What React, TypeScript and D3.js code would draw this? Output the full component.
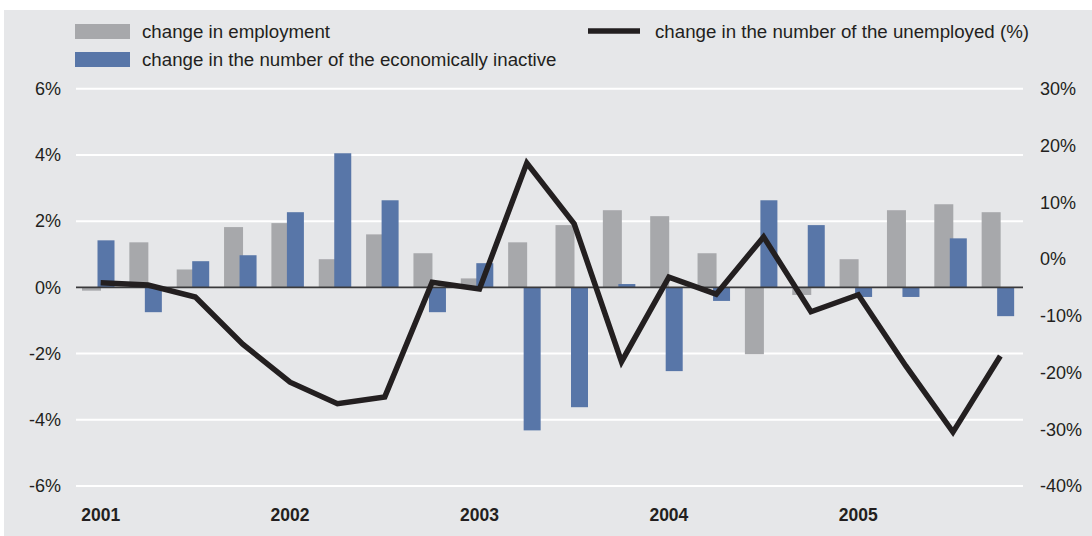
import React from "react";
import * as d3 from "d3";

const quarters = [
  "2001Q1","2001Q2","2001Q3","2001Q4",
  "2002Q1","2002Q2","2002Q3","2002Q4",
  "2003Q1","2003Q2","2003Q3","2003Q4",
  "2004Q1","2004Q2","2004Q3","2004Q4",
  "2005Q1","2005Q2","2005Q3","2005Q4",
];
const yearLabels = ["2001", "2002", "2003", "2004", "2005"];
const employment = [-0.1, 1.36, 0.54, 1.82, 1.94, 0.85, 1.6, 1.03, 0.27, 1.36, 1.88, 2.33, 2.15, 1.03, -2.02, -0.23, 0.85, 2.33, 2.51, 2.27];
const inactive = [1.42, -0.75, 0.79, 0.97, 2.27, 4.05, 2.63, -0.75, 0.73, -4.32, -3.62, 0.1, -2.53, -0.41, 2.63, 1.88, -0.29, -0.29, 1.48, -0.87];
const unemployed = [-4.2, -4.6, -6.7, -15.0, -21.7, -25.5, -24.3, -4.1, -5.3, 16.9, 6.2, -18.1, -3.2, -6.2, 3.9, -9.3, -6.3, -18.8, -30.5, -17.1];
const leftTicks = [6, 4, 2, 0, -2, -4, -6];
const rightTicks = [30, 20, 10, 0, -10, -20, -30, -40];
const legendLabels = [
  "change in employment",
  "change in the number of the economically inactive",
  "change in the number of the unemployed (%)",
];

const W = 1092, H = 536;
const C_BG = "#e6e7e9", C_GREY = "#a7a8ab", C_BLUE = "#5876a8", C_LINE = "#231f20", C_TEXT = "#231f20";
const FONT = "Liberation Sans, Arial, sans-serif";

export default function App() {
  const x = d3.scaleBand<number>().domain(d3.range(quarters.length)).range([76, 1023]).padding(0);
  const yL = d3.scaleLinear().domain([-6, 6]).range([486, 88.7]);
  const yR = d3.scaleLinear().domain([-40, 30]).range([486, 88.7]);
  const bw = x.bandwidth();
  const line = d3.line<number>()
    .x((_, i) => (x(i) as number) + bw / 2 + 1)
    .y((d) => yR(d));

  return (
    <svg width={W} height={H} style={{ position: "absolute", left: 0, top: 0, fontFamily: FONT }}>
      <rect x={0} y={0} width={W} height={H} fill="#ffffff" />
      <rect x={4} y={10} width={W - 4} height={H - 10} fill={C_BG} />
      {leftTicks.filter((t) => t !== 0).map((t) => (
        <line key={t} x1={76} x2={1023} y1={yL(t)} y2={yL(t)} stroke="#ffffff" strokeWidth={2} />
      ))}
      {employment.map((v, i) => (
        <rect key={"g" + i} x={(x(i) as number) + 6} width={19}
          y={yL(Math.max(0, v))} height={Math.abs(yL(v) - yL(0))} fill={C_GREY} />
      ))}
      {inactive.map((v, i) => (
        <rect key={"b" + i} x={(x(i) as number) + 21.5} width={17}
          y={yL(Math.max(0, v))} height={Math.abs(yL(v) - yL(0))} fill={C_BLUE} />
      ))}
      <line x1={76} x2={1023} y1={yL(0)} y2={yL(0)} stroke="#3a3a3c" strokeWidth={1.6} />
      <path d={line(unemployed) || ""} fill="none" stroke={C_LINE} strokeWidth={5.5} strokeLinejoin="miter" strokeMiterlimit={4} />
      {leftTicks.map((t) => (
        <text key={"l" + t} x={61} y={yL(t)} dy="0.35em" textAnchor="end" fontSize={18} fill={C_TEXT}>{t + "%"}</text>
      ))}
      {rightTicks.map((t) => (
        <text key={"r" + t} x={1040} y={yR(t)} dy="0.35em" textAnchor="start" fontSize={18} fill={C_TEXT}>{t + "%"}</text>
      ))}
      {yearLabels.map((yl, k) => (
        <text key={yl} x={(x(k * 4) as number) + bw / 2 + 1} y={521} textAnchor="middle" fontSize={17.5} fontWeight="bold" fill={C_TEXT}>{yl}</text>
      ))}
      <rect x={75} y={24} width={55} height={15} fill={C_GREY} />
      <rect x={75} y={52} width={55} height={15} fill={C_BLUE} />
      <text x={142} y={31} dy="0.35em" fontSize={18.7} fill={C_TEXT}>{legendLabels[0]}</text>
      <text x={142} y={59} dy="0.35em" fontSize={18.7} fill={C_TEXT}>{legendLabels[1]}</text>
      <line x1={588} x2={640} y1={31} y2={31} stroke={C_LINE} strokeWidth={5.5} />
      <text x={655} y={31} dy="0.35em" fontSize={18.7} fill={C_TEXT}>{legendLabels[2]}</text>
    </svg>
  );
}
